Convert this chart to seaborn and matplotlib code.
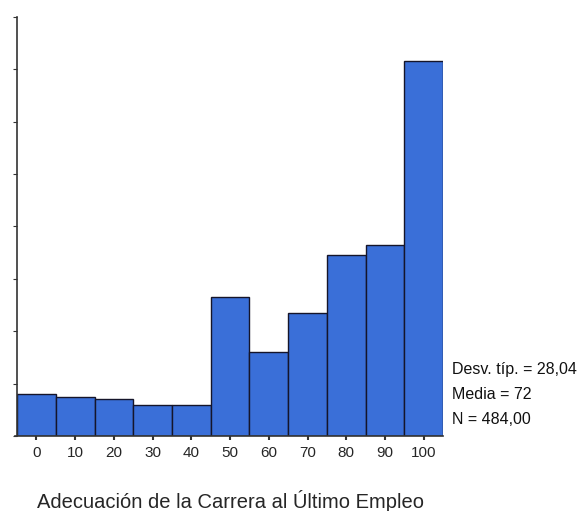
import matplotlib
matplotlib.use('Agg')
import matplotlib.pyplot as plt
import seaborn as sns
import pandas as pd

categorias = ['0', '10', '20', '30', '40', '50', '60', '70', '80', '90', '100']
frecuencias = [16, 15, 14, 12, 12, 53, 32, 47, 69, 73, 143]
estadisticos = ['Desv. típ. = 28,04', 'Media = 72', 'N = 484,00']

datos = pd.DataFrame({'valor': categorias, 'frecuencia': frecuencias})

sns.set_style('white')
plt.rcParams['font.family'] = ['Liberation Sans', 'DejaVu Sans']

fig = plt.figure(figsize=(5.79, 5.11), dpi=100)
ax = fig.add_axes([0.0294, 0.1468, 0.736, 0.82])

sns.barplot(data=datos, x='valor', y='frecuencia', color='#3a6fd8', saturation=1,
            width=1.0, edgecolor='#15152a', linewidth=1.0, ax=ax)

ax.set_xlim(-0.5, 10.5)
ax.set_ylim(0, 160)
ax.set_yticks(range(0, 161, 20))
ax.set_yticklabels([])
ax.tick_params(axis='y', direction='out', length=3, width=0.8, color='#333333', left=True)
ax.tick_params(axis='x', direction='out', length=3, width=1.5, color='#333333', bottom=True,
               labelsize=11, pad=4)
for lado in ['top', 'right']:
    ax.spines[lado].set_visible(False)
for lado in ['left', 'bottom']:
    ax.spines[lado].set_color('#333333')
    ax.spines[lado].set_linewidth(1.2)
ax.spines['bottom'].set_bounds(-0.55, 10.5)

ax.set_ylabel('')
ax.set_xlabel('Adecuación de la Carrera al Último Empleo', fontsize=14.5, labelpad=22)

for i, texto in enumerate(estadisticos):
    fig.text(452 / 579, 1 - (369 + 25.5 * i) / 511, texto, fontsize=11.5,
             va='center', ha='left', color='#111111')

fig.savefig('out.png', dpi=100)
